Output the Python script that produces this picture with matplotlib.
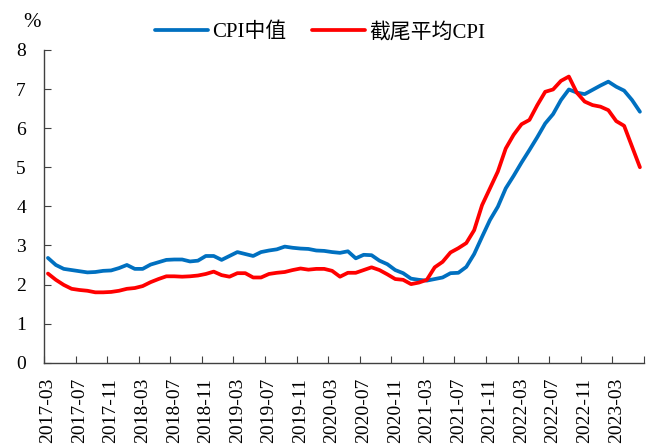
import matplotlib

matplotlib.use('Agg')
import matplotlib.pyplot as plt
import numpy as np
import pandas as pd

# monthly data, 2017-03 .. 2023-06
months = pd.period_range('2017-03', '2023-06', freq='M').strftime('%Y-%m').tolist()

cpi_median = [
    2.68, 2.50, 2.40, 2.37, 2.34, 2.31, 2.32, 2.35, 2.36, 2.42,
    2.50, 2.40, 2.40, 2.51, 2.57, 2.63, 2.64, 2.64, 2.59, 2.61,
    2.73, 2.73, 2.63, 2.73, 2.83, 2.78, 2.73, 2.83, 2.87, 2.90,
    2.97, 2.94, 2.92, 2.91, 2.87, 2.86, 2.83, 2.81, 2.85, 2.67,
    2.76, 2.75, 2.61, 2.52, 2.37, 2.29, 2.15, 2.12, 2.10, 2.14,
    2.18, 2.29, 2.30, 2.45, 2.78, 3.22, 3.65, 3.99, 4.46, 4.78,
    5.12, 5.44, 5.77, 6.12, 6.36, 6.72, 6.99, 6.91, 6.87, 6.98,
    7.09, 7.19, 7.06, 6.96, 6.72, 6.42,
]

cpi_trimmed = [
    2.28, 2.12, 1.99, 1.89, 1.86, 1.84, 1.80, 1.80, 1.81, 1.84,
    1.89, 1.91, 1.96, 2.06, 2.14, 2.21, 2.21, 2.20, 2.21, 2.23,
    2.27, 2.33, 2.24, 2.20, 2.29, 2.29, 2.18, 2.18, 2.27, 2.30,
    2.32, 2.37, 2.41, 2.38, 2.40, 2.40, 2.35, 2.20, 2.30, 2.30,
    2.37, 2.44, 2.37, 2.26, 2.14, 2.12, 2.01, 2.05, 2.12, 2.44,
    2.58, 2.82, 2.93, 3.06, 3.39, 4.03, 4.46, 4.89, 5.48, 5.83,
    6.10, 6.21, 6.59, 6.93, 6.99, 7.21, 7.32, 6.91, 6.68, 6.59,
    6.55, 6.46, 6.18, 6.06, 5.53, 5.00,
]

plt.rcParams['font.family'] = ['Liberation Serif', 'Noto Sans CJK SC']

fig = plt.figure(figsize=(6.53, 4.47), dpi=100, facecolor='white')
ax = fig.add_axes([0.0674, 0.1886, 0.9186, 0.6996])

x = np.arange(len(months))
ax.plot(x, cpi_median, color='#0070C0', linewidth=2.7, label='CPI中值',
        solid_capstyle='round', solid_joinstyle='round')
ax.plot(x, cpi_trimmed, color='#FF0000', linewidth=2.7, label='截尾平均CPI',
        solid_capstyle='round', solid_joinstyle='round')

ax.set_xlim(-0.5, len(months) - 0.5)
ax.set_ylim(0, 8)
ax.set_yticks(range(0, 9))

# category axis: ticks between categories, labels on the category
ax.set_xticks(np.arange(0, len(months) + 1, 4) - 0.5)
ax.set_xticklabels([])
ax.set_xticks(x[::4], minor=True)
ax.set_xticklabels(months[::4], minor=True, rotation=90, fontsize=14)
ax.tick_params(axis='x', which='minor', length=0, pad=11)
ax.tick_params(axis='x', which='major', direction='in', length=5, color='#404040')
ax.tick_params(axis='y', direction='in', length=5, color='#404040', labelsize=14, pad=13)

for side in ['top', 'right']:
    ax.spines[side].set_visible(False)
for side in ['left', 'bottom']:
    ax.spines[side].set_color('#404040')
    ax.spines[side].set_linewidth(1)

fig.text(0.049, 0.949, '%', fontsize=15, ha='center', va='center')

fig.legend(loc='center', bbox_to_anchor=(0.49, 0.928), ncol=2, frameon=False,
           fontsize=15, handlelength=2.55, columnspacing=1.2, handletextpad=0.2)

fig.savefig('out.png', dpi=100, facecolor='white')
plt.close(fig)
